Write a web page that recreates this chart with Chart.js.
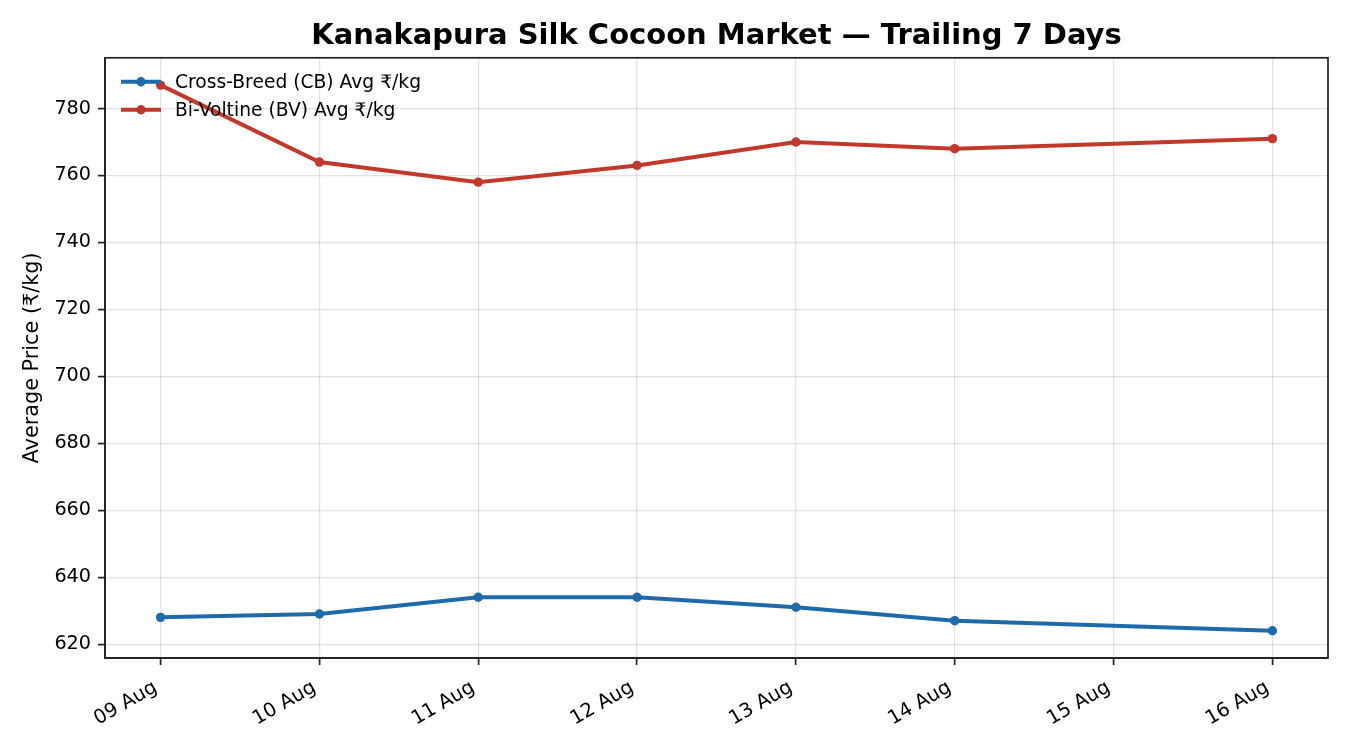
<!DOCTYPE html>
<html>
<head>
<meta charset="utf-8">
<title>Kanakapura Silk Cocoon Market</title>
<script src="https://cdn.jsdelivr.net/npm/chart.js@4.4.1/dist/chart.umd.min.js"></script>
<style>
  html, body { margin: 0; padding: 0; background: #ffffff; }
  #wrap { width: 1350px; height: 750px; }
</style>
</head>
<body>
<div id="wrap"><canvas id="grafico"></canvas></div>
<script>
// Datos (dia de agosto -> precio medio en Rs/kg)
const dias = [9, 10, 11, 12, 13, 14, 16];
const precioCB = [628, 629, 634, 634, 631, 627, 624];
const precioBV = [787, 764, 758, 763, 770, 768, 771];

// Ticks de los ejes
const xTicks = [9, 10, 11, 12, 13, 14, 15, 16];
const xTickLabels = ['09 Aug', '10 Aug', '11 Aug', '12 Aug', '13 Aug', '14 Aug', '15 Aug', '16 Aug'];
const yTicks = [620, 640, 660, 680, 700, 720, 740, 760, 780];

const azul = '#1f6aa8';
const rojo = '#c0392b';
const fuente = "'DejaVu Sans', 'Noto Sans', sans-serif";

Chart.defaults.font.family = fuente;
Chart.defaults.color = '#000000';

// Leyenda dentro del area del grafico (arriba a la izquierda) y marco completo
const leyendaYMarco = {
    id: 'leyendaYMarco',
    afterDraw(chart) {
        const ctx = chart.ctx;
        const area = chart.chartArea;
        ctx.save();
        // marco
        ctx.strokeStyle = '#222222';
        ctx.lineWidth = 1.7;
        ctx.strokeRect(area.left, area.top, area.right - area.left, area.bottom - area.top);
        // leyenda
        chart.data.datasets.forEach((ds, i) => {
            const y = area.top + 24 + i * 28;
            const x0 = area.left + 16;
            ctx.strokeStyle = ds.borderColor;
            ctx.lineWidth = ds.borderWidth;
            ctx.beginPath();
            ctx.moveTo(x0, y);
            ctx.lineTo(x0 + 40, y);
            ctx.stroke();
            ctx.fillStyle = ds.borderColor;
            ctx.beginPath();
            ctx.arc(x0 + 20, y, ds.pointRadius, 0, Math.PI * 2);
            ctx.fill();
            ctx.fillStyle = '#000000';
            ctx.font = '18.7px ' + fuente;
            ctx.textBaseline = 'middle';
            ctx.textAlign = 'left';
            ctx.fillText(ds.label, x0 + 54, y + 1);
        });
        ctx.restore();
    }
};

const migrafico = document.getElementById('grafico');

const datos1 = {
    label: 'Cross-Breed (CB) Avg ₹/kg',
    data: dias.map((d, i) => ({ x: d, y: precioCB[i] })),
    borderColor: azul,
    backgroundColor: azul,
    pointBackgroundColor: azul,
    pointBorderWidth: 0,
    pointRadius: 4.7,
    borderWidth: 4,
    tension: 0
};
const datos2 = {
    label: 'Bi-Voltine (BV) Avg ₹/kg',
    data: dias.map((d, i) => ({ x: d, y: precioBV[i] })),
    borderColor: rojo,
    backgroundColor: rojo,
    pointBackgroundColor: rojo,
    pointBorderWidth: 0,
    pointRadius: 4.7,
    borderWidth: 4,
    tension: 0
};

const config = {
    type: 'line',
    data: { datasets: [datos1, datos2] },
    options: {
        responsive: true,
        maintainAspectRatio: false,
        animation: false,
        layout: { padding: { left: 0, right: 22, top: 0, bottom: 0 } },
        plugins: {
            title: {
                display: true,
                fullSize: false,
                text: 'Kanakapura Silk Cocoon Market — Trailing 7 Days',
                color: '#000000',
                font: { size: 29, weight: 'bold', family: fuente },
                padding: { top: 19, bottom: 4 }
            },
            legend: { display: false },
            tooltip: { enabled: false }
        },
        scales: {
            x: {
                type: 'linear',
                min: 8.65,
                max: 16.35,
                afterBuildTicks: (scale) => {
                    scale.ticks = xTicks.map(v => ({ value: v }));
                },
                afterFit: (scale) => { scale.height = 92; },
                border: { display: true, color: '#222222', width: 1.7 },
                grid: {
                    color: 'rgba(0,0,0,0.11)',
                    lineWidth: 1.2,
                    tickColor: '#222222',
                    tickWidth: 1.7,
                    tickLength: 7
                },
                ticks: {
                    minRotation: 30,
                    maxRotation: 30,
                    padding: 11,
                    labelOffset: -5,
                    color: '#000000',
                    font: { size: 19.5 },
                    callback: (value) => xTickLabels[xTicks.indexOf(value)]
                }
            },
            y: {
                min: 615.85,
                max: 795.15,
                afterBuildTicks: (scale) => {
                    scale.ticks = yTicks.map(v => ({ value: v }));
                },
                afterFit: (scale) => { scale.width = 105; },
                border: { display: true, color: '#222222', width: 1.7 },
                grid: {
                    color: 'rgba(0,0,0,0.11)',
                    lineWidth: 1.2,
                    tickColor: '#222222',
                    tickWidth: 1.7,
                    tickLength: 7
                },
                ticks: {
                    padding: 7,
                    color: '#000000',
                    font: { size: 19.2 }
                },
                title: {
                    display: true,
                    text: 'Average Price (₹/kg)',
                    color: '#000000',
                    font: { size: 20.8 },
                    padding: { top: 20, bottom: 0 }
                }
            }
        }
    },
    plugins: [leyendaYMarco]
};

const graficoActual = new Chart(migrafico, config);
</script>
</body>
</html>
